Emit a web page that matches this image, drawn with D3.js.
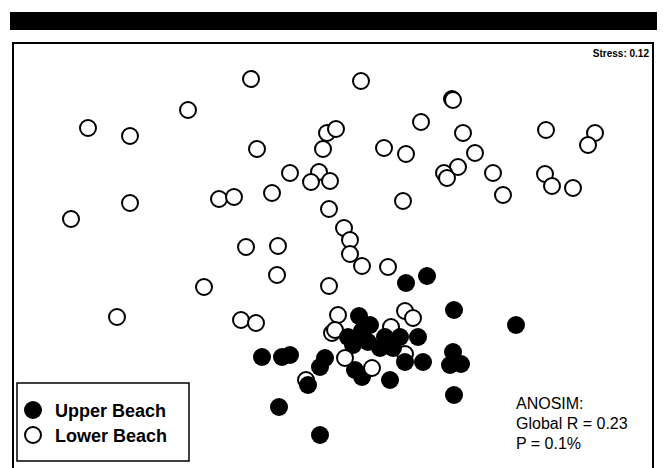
<!DOCTYPE html>
<html>
<head>
<meta charset="utf-8">
<script src="https://cdn.jsdelivr.net/npm/d3@7"></script>
<style>
  body { margin: 0; background: #fff; }
  text { font-family: "Liberation Sans", Arial, sans-serif; }
</style>
</head>
<body>
<div id="chart"></div>
<script>
// NMDS ordination scores (arbitrary units)
const lowerX = [-0.82, 0.28, -1.45, 1.19, 1.20, -2.45, -2.03, -0.06, 0.03, 0.88, 1.30, 2.13, 2.62, 2.55,
  -0.76, -0.10, 0.51, 0.73, 1.42, -0.43, -0.14, -0.22, -0.03, 1.25, 1.11, 1.14, 1.60, 2.12, 2.19, 2.40,
  -0.61, -1.14, -0.99, -2.03, 0.70, 1.70, -2.62, -0.04, 0.11, 0.17, 0.17, 0.29, -0.87, -0.55, -0.56,
  0.55, -1.29, -0.04, -2.16, -0.92, -0.77, 0.05, 0.72, 0.80, -0.01, 0.02, 0.58, 0.72, -0.27,
  0.12, 0.39];
const lowerY = [1.75, 1.73, 1.44, 1.55, 1.54, 1.26, 1.18, 1.21, 1.25, 1.32, 1.21, 1.24, 1.21, 1.09,
  1.05, 1.05, 1.06, 1.00, 1.01, 0.81, 0.82, 0.72, 0.73, 0.87, 0.81, 0.76, 0.81, 0.80, 0.68, 0.66,
  0.61, 0.55, 0.57, 0.51, 0.53, 0.59, 0.35, 0.45, 0.26, 0.14, 0.00, -0.12, 0.07, 0.08, -0.21,
  -0.13, -0.33, -0.32, -0.63, -0.66, -0.69, -0.61, -0.57, -0.64, -0.79, -0.76, -0.73, -1.00, -1.26,
  -1.04, -1.14];
// the last lower-beach samples sit over the upper-beach symbols
const lowerOnTop = 2;

const upperX = [0.94, 0.73, 1.21, 1.83, 0.26, 0.37, 0.29, 0.15, 0.52, 0.67, 0.85, 0.20, 0.35, 0.47,
  0.60, 0.72, 0.90, 1.20, 1.17, 1.28, 1.21, -0.71, -0.51, -0.43, -0.08, -0.13, 0.22, 0.29, 0.57,
  -0.25, -0.54, -0.13];
const upperY = [-0.22, -0.29, -0.56, -0.71, -0.62, -0.71, -0.77, -0.83, -0.83, -0.83, -0.83, -0.91, -0.88, -0.94,
  -0.94, -1.08, -1.08, -0.98, -1.11, -1.10, -1.41, -1.03, -1.03, -1.01, -1.04, -1.13, -1.16, -1.23, -1.26,
  -1.31, -1.53, -1.81];

const groupLabels = ['Upper Beach', 'Lower Beach'];
const stressLabel = 'Stress: 0.12';
const anosimLines = ['ANOSIM:', 'Global R = 0.23', 'P = 0.1%'];

const width = 663, height = 468;
const frame = { l: 13, r: 653, t: 43, b: 466 };

const svg = d3.select('#chart').append('svg')
  .attr('width', width)
  .attr('height', height);

svg.append('rect')
  .attr('width', width)
  .attr('height', height)
  .attr('fill', '#fff');

// title bar (blacked out in the source)
svg.append('rect')
  .attr('x', 10).attr('y', 12)
  .attr('width', 647).attr('height', 18)
  .attr('fill', '#000');

const x = d3.scaleLinear().domain([-3.2, 3.2]).range([frame.l, frame.r]);
const y = d3.scaleLinear().domain([-2.12, 2.11]).range([frame.b, frame.t]);

// plot frame, bottom edge falls just outside the crop
svg.append('rect')
  .attr('x', frame.l).attr('y', frame.t)
  .attr('width', frame.r - frame.l).attr('height', height + 6 - frame.t)
  .attr('fill', 'none')
  .attr('stroke', '#000')
  .attr('stroke-width', 2);

const lower = lowerX.map((v, i) => [v, lowerY[i]]);
const upper = upperX.map((v, i) => [v, upperY[i]]);
const lowerUnder = lower.slice(0, lower.length - lowerOnTop);
const lowerOver = lower.slice(lower.length - lowerOnTop);

const drawLower = (pts, cls) => svg.append('g')
  .attr('class', cls)
  .selectAll('circle')
  .data(pts)
  .join('circle')
    .attr('cx', (d) => x(d[0]))
    .attr('cy', (d) => y(d[1]))
    .attr('r', 8)
    .attr('fill', '#fff')
    .attr('stroke', '#000')
    .attr('stroke-width', 2);

drawLower(lowerUnder, 'lower');

svg.append('g')
  .attr('class', 'upper')
  .selectAll('circle')
  .data(upper)
  .join('circle')
    .attr('cx', (d) => x(d[0]))
    .attr('cy', (d) => y(d[1]))
    .attr('r', 9)
    .attr('fill', '#000');

drawLower(lowerOver, 'lower-top');

// stress value
svg.append('text')
  .attr('x', 649).attr('y', 57)
  .attr('text-anchor', 'end')
  .attr('font-size', '10px')
  .attr('font-weight', 'bold')
  .text(stressLabel);

// ANOSIM result
svg.append('g')
  .selectAll('text')
  .data(anosimLines)
  .join('text')
    .attr('x', 516)
    .attr('y', (d, i) => 409 + i * 20)
    .attr('font-size', '16px')
    .text((d) => d);

// legend
const legend = svg.append('g').attr('class', 'legend');
legend.append('rect')
  .attr('x', 17).attr('y', 383)
  .attr('width', 172).attr('height', 78)
  .attr('fill', '#fff')
  .attr('stroke', '#000')
  .attr('stroke-width', 1.5);
const rows = legend.selectAll('g.row')
  .data(groupLabels)
  .join('g')
    .attr('class', 'row')
    .attr('transform', (d, i) => `translate(0,${410 + i * 25})`);
rows.append('circle')
  .attr('cx', 33)
  .attr('cy', 0)
  .attr('r', (d, i) => i === 0 ? 9 : 8)
  .attr('fill', (d, i) => i === 0 ? '#000' : '#fff')
  .attr('stroke', '#000')
  .attr('stroke-width', (d, i) => i === 0 ? 0 : 2);
rows.append('text')
  .attr('x', 55)
  .attr('y', 6.5)
  .attr('font-size', '18px')
  .attr('font-weight', 'bold')
  .text((d) => d);
</script>
</body>
</html>
